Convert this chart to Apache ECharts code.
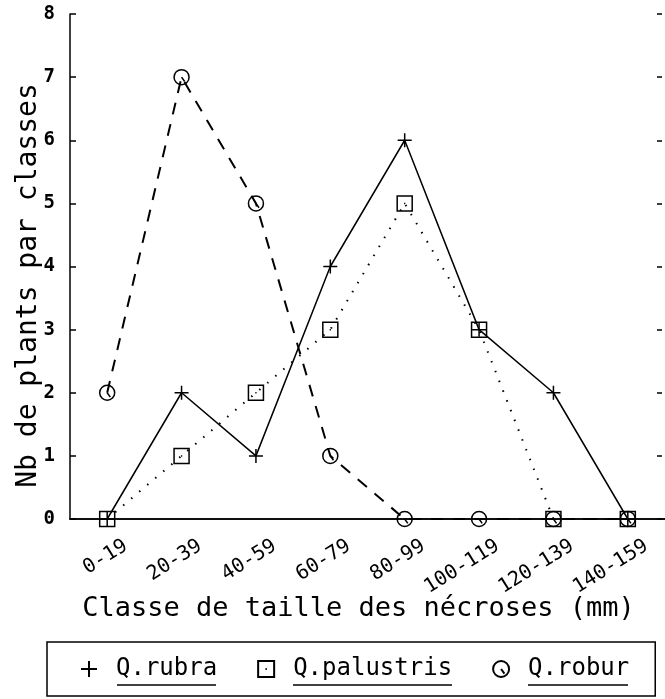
<!DOCTYPE html>
<html>
<head>
<meta charset="utf-8">
<script src="https://cdn.jsdelivr.net/npm/echarts@6/dist/echarts.min.js"></script>
<style>html,body{margin:0;padding:0;background:#fff;}#c{width:665px;height:699px;}</style>
</head>
<body>
<div id="c"></div>
<script>
const categories = ['0-19','20-39','40-59','60-79','80-99','100-119','120-139','140-159'];
const rubra = [0, 2, 1, 4, 6, 3, 2, 0];
const palustris = [0, 1, 2, 3, 5, 3, 0, 0];
const robur = [2, 7, 5, 1, 0, 0, 0, 0];
const yTicks = [0, 1, 2, 3, 4, 5, 6, 7, 8];
const seriesNames = ['Q.rubra', 'Q.palustris', 'Q.robur'];

const crossSym = 'path://M0,6L12,6M6,0L6,12';
const squareSym = 'path://M0,0L12,0L12,12L0,12Z M5.5,6L6.5,6';
const circleSym = 'path://M12,6A6,6 0 1 1 0,6A6,6 0 1 1 12,6Z M6,6L8.5,9.5';

const mono = 'DejaVu Sans Mono';
const chart = echarts.init(document.getElementById('c'), null, {renderer: 'canvas'});
chart.setOption({
  animation: false,
  backgroundColor: '#fff',
  grid: {left: 70, top: 14, width: 600, bottom: 180},
  xAxis: [{
    type: 'category', data: categories, boundaryGap: true,
    axisLine: {lineStyle: {color: '#000', width: 1.5}},
    axisTick: {inside: true, length: 6, lineStyle: {color: '#000', width: 1.5}},
    axisLabel: {rotate: 32, color: '#000', fontFamily: mono, fontSize: 20, margin: 37, padding: [0, -22, 0, 0]},
    name: 'Classe de taille des nécroses (mm)', nameLocation: 'middle', nameGap: 76, nameMoveOverlap: false,
    nameTextStyle: {color: '#000', fontFamily: mono, fontSize: 27, padding: [0, 18, 0, 0]}
  }, {
    type: 'category', data: categories, position: 'top',
    axisLine: {show: true, lineStyle: {color: '#000', width: 1.5}},
    axisTick: {show: false}, axisLabel: {show: false}
  }],
  yAxis: [{
    type: 'value', min: 0, max: 8, interval: 1,
    axisLine: {show: true, lineStyle: {color: '#000', width: 1.5}},
    axisTick: {show: true, inside: true, length: 6, lineStyle: {color: '#000', width: 1.5}},
    splitLine: {show: false},
    axisLabel: {color: '#000', fontFamily: mono, fontSize: 19, fontWeight: 'bold', margin: 15,
      formatter: v => yTicks.includes(v) ? String(v) : ''},
    name: 'Nb de plants par classes', nameLocation: 'middle', nameGap: 27, nameRotate: 90, nameMoveOverlap: false,
    nameTextStyle: {color: '#000', fontFamily: mono, fontSize: 28, padding: [0, 38, 0, 0]}
  }, {
    type: 'value', min: 0, max: 8, interval: 1, position: 'right', offset: -3,
    axisLine: {show: false},
    axisTick: {show: true, inside: true, length: 5, lineStyle: {color: '#000', width: 1.5}},
    splitLine: {show: false}, axisLabel: {show: false}
  }],
  legend: {
    left: 47, top: 642,
    padding: [15, 26, 15, 33], itemGap: 40,
    borderColor: '#000', borderWidth: 1.5,
    itemWidth: 16, itemHeight: 16,
    textStyle: {color: '#000', fontFamily: mono, fontSize: 24, padding: [0, 0, 0, 14]},
    data: [
      {name: seriesNames[0], icon: crossSym},
      {name: seriesNames[1], icon: squareSym},
      {name: seriesNames[2], icon: circleSym}
    ]
  },
  graphic: [
    {type: 'line', shape: {x1: 117, y1: 685, x2: 216, y2: 685}, style: {stroke: '#000', lineWidth: 1.5}},
    {type: 'line', shape: {x1: 293, y1: 685, x2: 452, y2: 685}, style: {stroke: '#000', lineWidth: 1.5}},
    {type: 'line', shape: {x1: 528, y1: 685, x2: 628, y2: 685}, style: {stroke: '#000', lineWidth: 1.5}}
  ],
  series: [
    {name: seriesNames[0], type: 'line', data: rubra, symbol: crossSym, symbolSize: 14,
     lineStyle: {color: '#000', width: 1.5, type: 'solid'},
     itemStyle: {color: 'transparent', borderColor: '#000', borderWidth: 1.5}},
    {name: seriesNames[1], type: 'line', data: palustris, symbol: squareSym, symbolSize: 15,
     lineStyle: {color: '#000', width: 2, type: [1.5, 9]},
     itemStyle: {color: 'transparent', borderColor: '#000', borderWidth: 1.5}},
    {name: seriesNames[2], type: 'line', data: robur, symbol: circleSym, symbolSize: 15,
     lineStyle: {color: '#000', width: 2, type: [12, 10]},
     itemStyle: {color: 'transparent', borderColor: '#000', borderWidth: 1.5}}
  ]
});
</script>
</body>
</html>
